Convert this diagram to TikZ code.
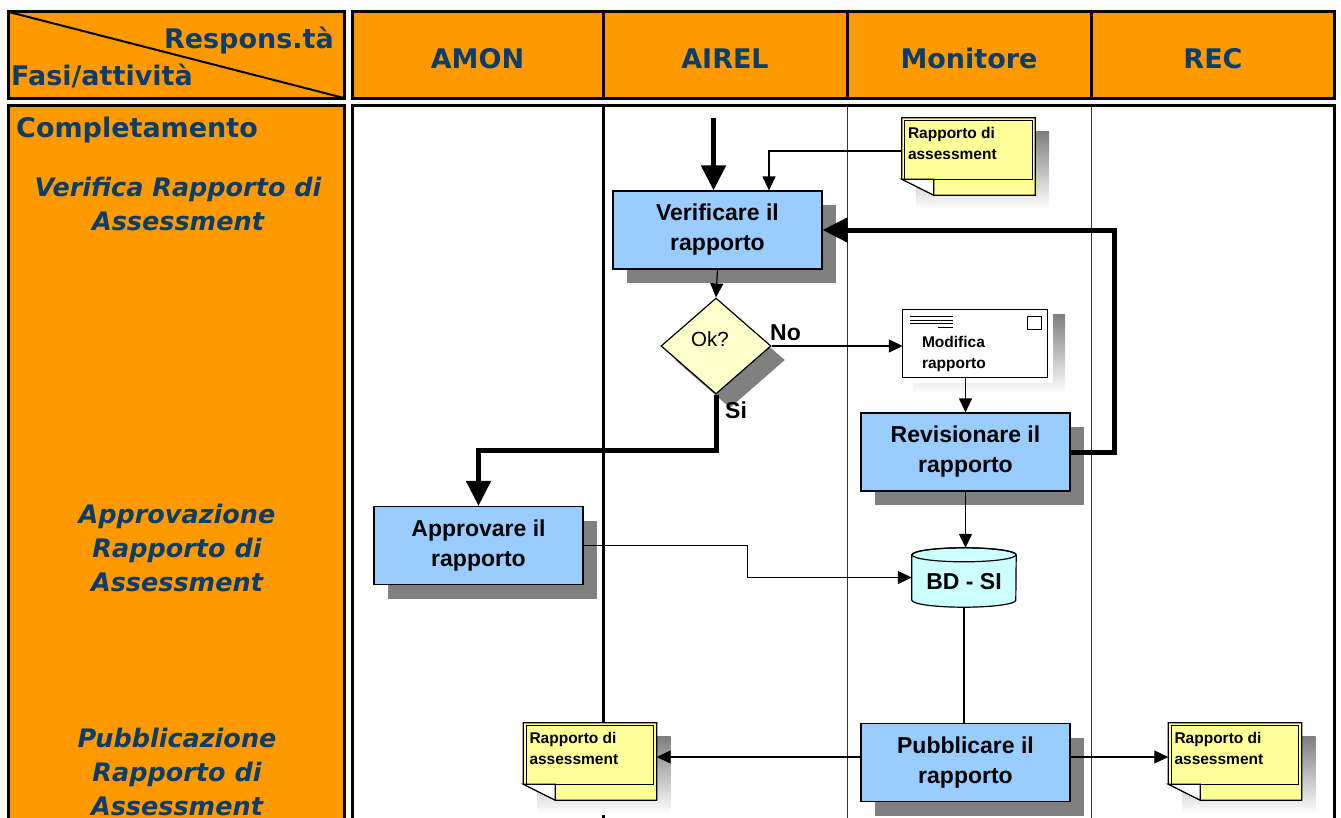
\documentclass[tikz,border=0pt]{standalone}
\usepackage{fontspec}
\setmainfont{Liberation Sans}
\newfontfamily\verdana{DejaVu Sans}
\usetikzlibrary{arrows.meta,shapes.geometric,shadows,calc}

\definecolor{laneorange}{HTML}{FF9900}
\definecolor{headblue}{HTML}{0B3D6B}
\definecolor{procblue}{HTML}{99CCFF}
\definecolor{decyellow}{HTML}{FFFFCC}
\definecolor{docyellow}{HTML}{FFFF99}
\definecolor{dbcyan}{HTML}{CCFFFF}
\definecolor{shade}{HTML}{808080}

\tikzset{
  sh/.style={drop shadow={shadow xshift=14pt,shadow yshift=-14pt,fill=shade,opacity=1}},
  process/.style={rectangle, draw, line width=1.2pt, fill=procblue, minimum width=209pt,
    minimum height=78pt, inner sep=0pt, align=center,
    font=\fontsize{23}{30}\selectfont\bfseries, sh},
  decision/.style={diamond, draw, line width=1.2pt, fill=decyellow, minimum width=110pt,
    minimum height=96pt, aspect=1.15, inner sep=0pt, sh},
  sheet/.style={rectangle, minimum width=133pt, minimum height=77pt, inner sep=0pt},
  envelope/.style={rectangle, minimum width=144pt, minimum height=67pt, inner sep=0pt},
  dbase/.style={rectangle, minimum width=104pt, minimum height=59pt, inner sep=0pt},
  smalltext/.style={anchor=north west, inner sep=0pt, align=left,
    font=\fontsize{15.5}{21}\selectfont\bfseries},
  flow/.style={line width=1.2pt, -{Triangle[length=14pt,width=13pt]}},
  plain/.style={line width=1.2pt},
  bigflow/.style={line width=5pt, -{Triangle[length=25pt,width=24pt]}},
  lanehead/.style={anchor=base, inner sep=0pt, font=\verdana\fontsize{27}{27}\selectfont\bfseries, text=headblue},
  phase/.style={align=center, inner sep=0pt, font=\verdana\fontsize{25.5}{34}\selectfont\bfseries\itshape, text=headblue},
  lbl/.style={anchor=base west, inner sep=0pt, font=\fontsize{23}{23}\selectfont\bfseries},
  grid/.style={line width=3pt},
}

% curled-corner document with drop shadow
\newcommand\papersheet[1]{%
  \fill[shade] ($(#1.north west)+(14,-14)$) rectangle ($(#1.south east)+(14,-14)$);
  \filldraw[fill=docyellow, line width=1.2pt] (#1.north west) -- (#1.north east) -- (#1.south east)
    -- ($(#1.south west)+(32,0)$) -- ($(#1.south west)+(0,16)$) -- cycle;
  \filldraw[fill=white, line width=1.2pt] ($(#1.south west)+(0,16)$) -- ($(#1.south west)+(32,16)$)
    -- ($(#1.south west)+(32,0)$) -- cycle;
  \draw[line width=0.8pt] ($(#1.north west)+(3,-3)$) rectangle ($(#1.south east)+(-3,16)$);
}

\begin{document}
\begin{tikzpicture}[x=1pt,y=1pt]
\useasboundingbox (0,0) rectangle (1341,-817);
\fill[white] (0,0) rectangle (1341,-817);

% ---------- header row ----------
\filldraw[fill=laneorange, grid] (8.5,-11.5) rectangle (344.5,-98.5);
\draw[line width=2pt] (9,-12) -- (344,-98);
\node[anchor=base east, inner sep=0pt, font=\verdana\fontsize{27}{27}\selectfont\bfseries, text=headblue]
  (resp) at (334,-48) {Respons.tà};
\node[anchor=base west, inner sep=0pt, font=\verdana\fontsize{27}{27}\selectfont\bfseries, text=headblue]
  (fasi) at (11,-85) {Fasi/attività};

\filldraw[fill=laneorange, grid] (352.5,-11.5) rectangle (1334.5,-98.5);
\draw[grid] (603,-11.5) -- (603,-98.5);
\draw[grid] (847.5,-11.5) -- (847.5,-98.5);
\draw[grid] (1091.5,-11.5) -- (1091.5,-98.5);
\node[lanehead] (hamon) at (477.5,-68) {AMON};
\node[lanehead] (hairel) at (725,-68) {AIREL};
\node[lanehead] (hmon) at (969,-68) {Monitore};
\node[lanehead] (hrec) at (1213,-68) {REC};

% ---------- body ----------
\filldraw[fill=laneorange, grid] (8.5,-105.5) rectangle (344.5,-840);
\filldraw[fill=white, grid] (352.5,-105.5) rectangle (1334.5,-840);
\draw[grid] (603,-105.5) -- (603,-840);
\draw[line width=1pt, black!80] (847.5,-105.5) -- (847.5,-840);
\draw[line width=1pt, black!80] (1091.5,-105.5) -- (1091.5,-840);

\node[anchor=base west, inner sep=0pt, font=\verdana\fontsize{27}{27}\selectfont\bfseries, text=headblue]
  (compl) at (16,-137) {Completamento};
\node[phase] (ph1) at (178,-204) {Verifica Rapporto di\\Assessment};
\node[phase] (ph2) at (177,-548) {Approvazione\\Rapporto di\\Assessment};
\node[phase] (ph3) at (177,-772) {Pubblicazione\\Rapporto di\\Assessment};

% ---------- process nodes ----------
\node[process] (ver) at (717.5,-230) {Verificare il\\rapporto};
\node[decision] (ok) at (716,-346) {};
\node[anchor=center, inner sep=0pt, font=\fontsize{20.5}{20.5}\selectfont] (oktxt) at (710,-339) {Ok?};
\node[process] (rev) at (965.5,-452) {Revisionare il\\rapporto};
\node[process] (app) at (478.5,-545.5) {Approvare il\\rapporto};
\node[process] (pub) at (965.5,-762.5) {Pubblicare il\\rapporto};

% incoming report (top)
\node[sheet] (doc1) at (968.5,-156.5) {};
\papersheet{doc1}
\node[smalltext] (doc1txt) at ($(doc1.north west)+(6,-9)$) {Rapporto di\\assessment};

% published reports
\node[sheet] (doc2) at (590,-761.5) {};
\papersheet{doc2}
\node[smalltext] (doc2txt) at ($(doc2.north west)+(6,-9)$) {Rapporto di\\assessment};
\node[sheet] (doc3) at (1235,-761.5) {};
\papersheet{doc3}
\node[smalltext] (doc3txt) at ($(doc3.north west)+(6,-9)$) {Rapporto di\\assessment};

% change request (mail) on a small stack of sheets
\node[envelope] (mod) at (975,-343.5) {};
\fill[shade] ($(mod.north west)+(10,-5)$) rectangle ($(mod.south east)+(18,-16)$);
\fill[white] ($(mod.north west)+(5,-3)$) rectangle ($(mod.south east)+(6,-6)$);
\filldraw[fill=white, line width=1.2pt] (mod.north west) rectangle (mod.south east);
\draw[line width=1pt] ($(mod.north west)+(7,-7)$) -- ++(43,0);
\draw[line width=1pt] ($(mod.north west)+(7,-10.5)$) -- ++(43,0);
\draw[line width=1pt] ($(mod.north west)+(7,-14)$) -- ++(43,0);
\draw[line width=1pt] ($(mod.north west)+(35,-17.5)$) -- ++(15,0);
\draw[line width=0.9pt] ($(mod.north east)+(-20,-7)$) rectangle ++(14,-13);
\node[smalltext, font=\fontsize{15.5}{21.5}\selectfont\bfseries] (modtxt) at ($(mod.north west)+(19,-26)$) {Modifica\\rapporto};

% database
\node[dbase] (bd) at (964,-577.5) {};
\begin{scope}[shift={(13,-11)}]
  \fill[shade] ($(bd.north west)+(0,-7)$) -- ($(bd.south west)+(0,7)$)
    arc[start angle=180, end angle=360, x radius=52, y radius=7]
    -- ($(bd.north east)+(0,-7)$) arc[start angle=0, end angle=180, x radius=52, y radius=7] -- cycle;
\end{scope}
\filldraw[fill=dbcyan, line width=1.2pt] ($(bd.north west)+(0,-7)$) -- ($(bd.south west)+(0,7)$)
  arc[start angle=180, end angle=360, x radius=52, y radius=7]
  -- ($(bd.north east)+(0,-7)$) arc[start angle=0, end angle=180, x radius=52, y radius=7] -- cycle;
\draw[line width=1.2pt] ($(bd.north)+(0,-7)$) ellipse[x radius=52, y radius=7];
\node[inner sep=0pt, font=\fontsize{23}{23}\selectfont\bfseries] (bdtxt) at ($(bd.center)+(0,-4)$) {BD - SI};

% ---------- connectors ----------
\coordinate (start) at (713.5,-118);
\draw[bigflow] (start) -- (start |- ver.north);
\draw[flow] ([yshift=5.5pt]doc1.west) -| ([xshift=51.5pt]ver.north);
\draw[flow] (ver.south) -- (ok.north);
\draw[flow] (ok.east) -- (ok.east -| mod.west);
\node[lbl] (no) at (770,-340) {No};
\draw[bigflow] (ok.south) -- ++(0,-56) -| (app.north);
\node[lbl] (si) at (725,-418) {Si};
\draw[flow] (rev.north |- mod.south) -- (rev.north);
\draw[bigflow] (rev.east) -- ++(44,0) |- (ver.east);
\draw[flow] (rev.south) -- (rev.south |- bd.north);
\draw[flow] (app.east) -- ++(164,0) |- (bd.west);
\draw[plain] (bd.south) -- (bd.south |- pub.north);
\draw[flow] ([yshift=5.5pt]pub.west) -- ([yshift=5.5pt]pub.west -| doc2.east);
\draw[flow] ([yshift=5.5pt]pub.east) -- ([yshift=5.5pt]pub.east -| doc3.west);
\end{tikzpicture}
\end{document}
